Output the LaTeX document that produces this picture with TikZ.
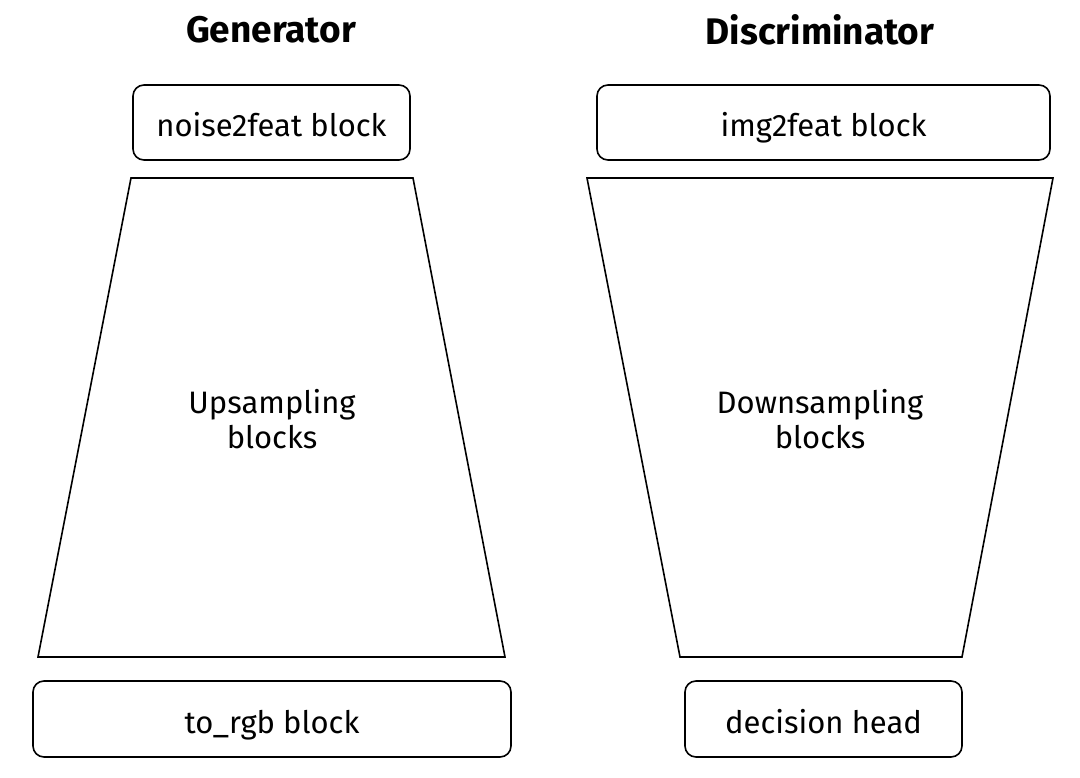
\documentclass[tikz,border=0pt]{standalone}
\usepackage{fontspec}
\setmainfont{Fira Sans}
\usepackage{tikz}
\usetikzlibrary{positioning}

\begin{document}
\begin{tikzpicture}[x=1pt,y=1pt,font=\fontsize{31}{35}\selectfont,
  blockbox/.style={draw,line width=1.6pt,rounded corners=11pt,inner sep=0pt,
    text height=33pt,text depth=4pt},
  heading/.style={font=\fontsize{37}{40}\selectfont\bfseries},
  trap/.style={draw,line width=1.6pt,line join=miter}]
\useasboundingbox (0,0) rectangle (1080,-778);
% generator column
\node[heading] (gentitle) at (271,-30) {Generator};
\node[blockbox,minimum width=277pt,minimum height=75pt] (noisebox) at (271.5,-122.5) {noise2feat block};
\coordinate (gtl) at (131,-178);
\coordinate (gtr) at (413,-178);
\coordinate (gbr) at (505,-657);
\coordinate (gbl) at (38,-657);
\draw[trap] (gtl) -- (gtr) -- (gbr) -- (gbl) -- cycle;
\node[align=center] (upsample) at (272,-419) {Upsampling\\blocks};
\node[blockbox,minimum width=478pt,minimum height=76pt] (rgbbox) at (272,-719) {to\_rgb block};

% discriminator column
\node[heading] (disctitle) at (820,-30) {Discriminator};
\node[blockbox,minimum width=453pt,minimum height=75pt] (imgbox) at (823.5,-122.5) {img2feat block};
\coordinate (dtl) at (587,-178);
\coordinate (dtr) at (1053,-178);
\coordinate (dbr) at (962,-657);
\coordinate (dbl) at (680,-657);
\draw[trap] (dtl) -- (dtr) -- (dbr) -- (dbl) -- cycle;
\node[align=center] (downsample) at (820,-419) {Downsampling\\blocks};
\node[blockbox,minimum width=277pt,minimum height=76pt] (headbox) at (823.5,-719) {decision head};
\end{tikzpicture}
\end{document}
